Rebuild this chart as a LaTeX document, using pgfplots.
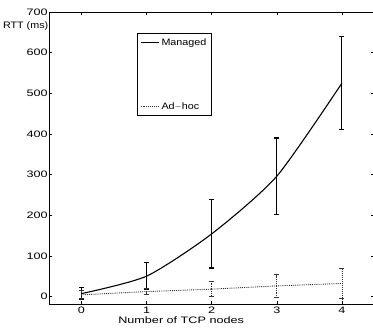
\documentclass[border=0pt]{standalone}
\usepackage{fontspec}
\setmainfont{Liberation Sans}[FakeStretch=1.15]
\newfontfamily\wide{Liberation Sans}[FakeStretch=1.35]
\usepackage{pgfplots}
\pgfplotsset{compat=1.18}
\begin{document}
\begin{tikzpicture}
\begin{axis}[
  name=ax,
  width=326bp, height=293bp, scale only axis,
  xmin=-0.5, xmax=4.5, ymin=-20, ymax=700,
  xtick={0,1,2,3,4}, ytick={0,100,200,300,400,500,600,700},
  tick align=inside, major tick length=3.5bp,
  tick style={black, line width=0.6pt},
  axis line style={line width=0.8pt},
  font=\fontsize{9.4}{10}\selectfont,
  /pgf/number format/assume math mode=true,
  ticklabel style={font=\wide\fontsize{9.4}{10}\selectfont},
  yticklabel style={inner sep=1pt},
  xticklabel style={inner sep=1pt, yshift=-1bp},
  xlabel={\wide Number of TCP nodes},
  xlabel style={at={(axis description cs:0.406,0)}, anchor=north, yshift=-12bp, inner sep=0pt},
  ylabel={RTT (ms)},
  ylabel style={rotate=-90, at={(axis description cs:0,0.952)}, anchor=east, inner sep=0.5pt},
  legend style={at={(axis description cs:0.270,0.928)}, anchor=north west, draw=black, line width=0.8pt,
    row sep=52pt, inner sep=3pt, font=\fontsize{9.4}{10}\selectfont, legend cell align=left},
  legend image code/.code={\draw[#1, line width=0.9pt] (0cm,0cm) -- (0.65cm,0cm);},
]
\addplot[black, line width=1.1pt, smooth, tension=0.4,
  error bars/.cd, y dir=both, y explicit,
  error bar style={line width=1.1pt, solid},
  error mark options={rotate=90, mark size=2.5bp, line width=1.1pt}]
  coordinates {
  (0,7) +- (0,15)
  (1,50) +- (0,33)
  (2,154) +- (0,84)
  (3,296) +- (0,94)
  (4,525) +- (0,115)
};
\addlegendentry{Managed}
\addplot[black!80, densely dotted, line width=0.9pt,
  error bars/.cd, y dir=both, y explicit,
  error bar style={line width=0.9pt, densely dotted},
  error mark options={rotate=90, mark size=2.5bp, line width=0.9pt, solid}]
  coordinates {
  (0,4) +- (0,10)
  (1,12) +- (0,8)
  (2,18) +- (0,18)
  (3,26) +- (0,28)
  (4,32) +- (0,38)
};
\addlegendentry{Ad$-$hoc}
\end{axis}
\pgfresetboundingbox
\path[use as bounding box] ([shift={(-49bp,-24bp)}]ax.south west) rectangle ([shift={(-1.5bp,12bp)}]ax.north east);
\end{tikzpicture}
\end{document}
